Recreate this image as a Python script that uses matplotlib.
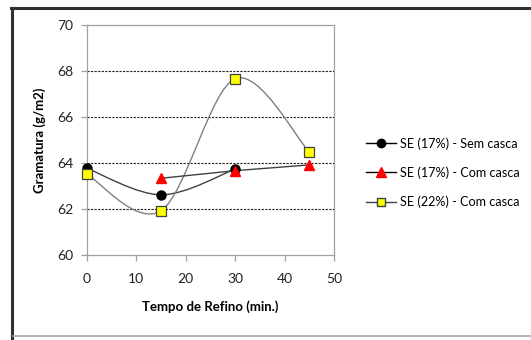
import matplotlib.pyplot as plt
from matplotlib.path import Path
from matplotlib.patches import PathPatch
from matplotlib.lines import Line2D

plt.rcParams['font.family'] = ['Lato', 'DejaVu Sans']

# data
x_sem17 = [0, 15, 30]
y_sem17 = [63.78, 62.63, 63.75]
x_com17 = [15, 30, 45]
y_com17 = [63.35, 63.68, 63.93]
x_com22 = [0, 15, 30, 45]
y_com22 = [63.52, 61.94, 67.68, 64.49]

labels = ['SE (17%) - Sem casca', 'SE (17%) - Com casca', 'SE (22%) - Com casca']
xticks = [0, 10, 20, 30, 40, 50]
yticks = [60, 62, 64, 66, 68, 70]


def smooth_path(xs, ys):
    # Excel style smoothed line: cubic bezier, Catmull-Rom control points
    pts = list(zip(xs, ys))
    verts = [pts[0]]
    codes = [Path.MOVETO]
    n = len(pts)
    for i in range(n - 1):
        p0 = pts[max(i - 1, 0)]
        p1 = pts[i]
        p2 = pts[i + 1]
        p3 = pts[min(i + 2, n - 1)]
        c1 = (p1[0] + (p2[0] - p0[0]) / 6, p1[1] + (p2[1] - p0[1]) / 6)
        c2 = (p2[0] - (p3[0] - p1[0]) / 6, p2[1] - (p3[1] - p1[1]) / 6)
        verts += [c1, c2, p2]
        codes += [Path.CURVE4] * 3
    return Path(verts, codes)


fig = plt.figure(figsize=(5.31, 3.4), dpi=100)

# outer chart frame
fig.add_artist(Line2D([12 / 531, 12 / 531], [0, 1 - 8 / 340], transform=fig.transFigure,
                      color='#303030', lw=2.2))
fig.add_artist(Line2D([11 / 531, 1], [1 - 8 / 340, 1 - 8 / 340], transform=fig.transFigure,
                      color='#303030', lw=2.2))
fig.add_artist(Line2D([13 / 531, 1], [1 - 336 / 340, 1 - 336 / 340], transform=fig.transFigure,
                      color='#a8a8a8', lw=1.2))

ax = fig.add_axes([87 / 531, 1 - 255.3 / 340, 247 / 531, 230 / 340])

ax.add_patch(PathPatch(smooth_path(x_sem17, y_sem17), fc='none', ec='#404040', lw=1.0, zorder=3))
ax.add_patch(PathPatch(smooth_path(x_com22, y_com22), fc='none', ec='#808080', lw=1.0, zorder=3))
ax.plot(x_com17, y_com17, color='#404040', lw=1.0, zorder=3)

ax.plot(x_sem17, y_sem17, ls='none', marker='o', ms=6.5, mfc='black', mec='black',
        zorder=4, clip_on=False)
ax.plot(x_com17, y_com17, ls='none', marker='^', ms=7, mfc='red', mec='red',
        zorder=4, clip_on=False)
ax.plot(x_com22, y_com22, ls='none', marker='s', ms=6.5, mfc='#ffff00', mec='#404040',
        mew=0.9, zorder=5, clip_on=False)

ax.set_xlim(0, 50)
ax.set_ylim(60, 70)
ax.set_xticks(xticks)
ax.set_yticks(yticks)
for y in yticks[1:-1]:
    ax.axhline(y, color='#202020', lw=0.8, ls=(0, (2, 1.2)), zorder=1)

for s in ax.spines.values():
    s.set_color('#a0a0a0')
    s.set_linewidth(0.9)
ax.tick_params(direction='out', length=4, width=0.9, color='#a0a0a0',
               labelsize=10, labelcolor='#222222', pad=6)
ax.tick_params(axis='x', pad=9)

ax.set_xlabel('Tempo de Refino (min.)', fontsize=9.5, fontweight='bold', labelpad=11)
ax.set_ylabel('Gramatura (g/m2)', fontsize=9.5, fontweight='bold', labelpad=8)

handles = [
    Line2D([], [], color='black', lw=1, marker='o', ms=6, mfc='black', mec='black'),
    Line2D([], [], color='black', lw=1, marker='^', ms=6.5, mfc='red', mec='red'),
    Line2D([], [], color='#404040', lw=1, marker='s', ms=6, mfc='#ffff00', mec='#404040'),
]
fig.legend(handles, labels, loc='upper left', bbox_to_anchor=(361 / 531, 1 - 132 / 340),
           frameon=False, fontsize=9.1, handlelength=2.4, handletextpad=0.25,
           labelspacing=1.32, borderaxespad=0)

fig.savefig('out.png', dpi=100)
